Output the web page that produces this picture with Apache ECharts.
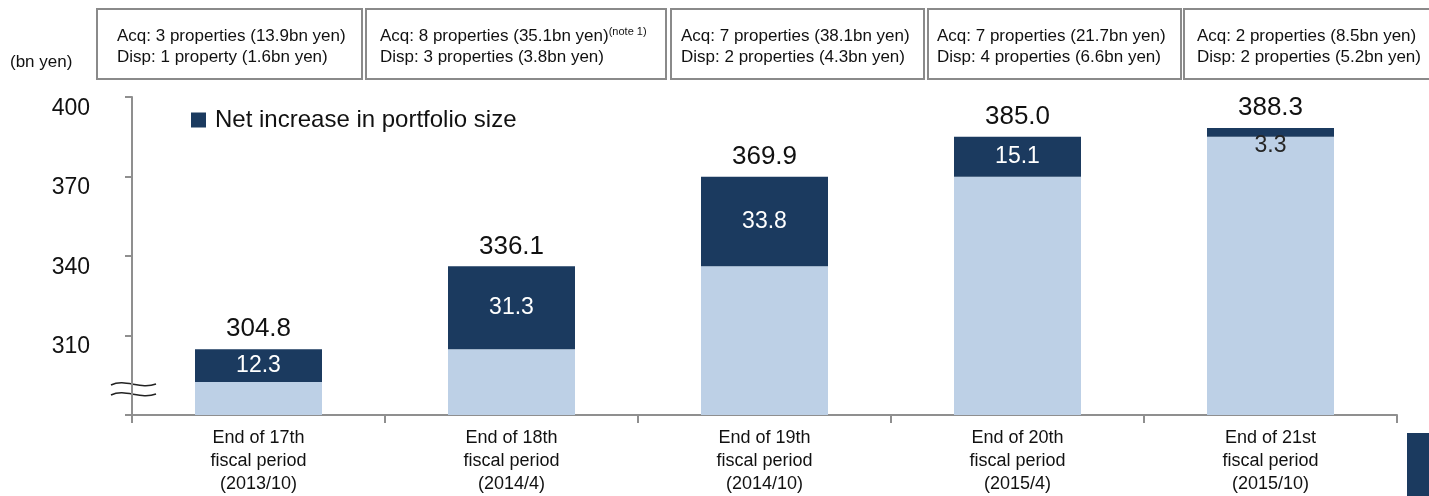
<!DOCTYPE html>
<head>
    <meta charset="utf-8"/>
    <style>
        html,body { height:100%; width:100%; margin:0; padding:0; background:#fff; }
    </style>
</head>
<body>

<div id="chart" style="width:1429px;height:496px"></div>

<script src="https://cdn.jsdelivr.net/npm/echarts@6/dist/echarts.min.js"></script>
<script type="text/javascript">

 // data
 var categories = [
     'End of 17th\nfiscal period\n(2013/10)',
     'End of 18th\nfiscal period\n(2014/4)',
     'End of 19th\nfiscal period\n(2014/10)',
     'End of 20th\nfiscal period\n(2015/4)',
     'End of 21st\nfiscal period\n(2015/10)'
 ];
 var totals = [304.8, 336.1, 369.9, 385.0, 388.3];
 var netIncrease = [12.3, 31.3, 33.8, 15.1, 3.3];
 var acqNotes = [
     'Acq: 3 properties (13.9bn yen)',
     'Acq: 8 properties (35.1bn yen)',
     'Acq: 7 properties (38.1bn yen)',
     'Acq: 7 properties (21.7bn yen)',
     'Acq: 2 properties (8.5bn yen)'
 ];
 var dispNotes = [
     'Disp: 1 property (1.6bn yen)',
     'Disp: 3 properties (3.8bn yen)',
     'Disp: 2 properties (4.3bn yen)',
     'Disp: 4 properties (6.6bn yen)',
     'Disp: 2 properties (5.2bn yen)'
 ];
 var yTicks = [310, 340, 370, 400];

 var NAVY = '#1b3a5f';
 var LIGHT = '#bdd0e6';
 var FONT = '"Liberation Sans", Arial, sans-serif';

 var baseValues = totals.map(function (t, i) { return +(t - netIncrease[i]).toFixed(1); });

 var netData = netIncrease.map(function (v, i) {
     if (v < 5) {
         // thin segment: label sits under it
         return { value: v, label: { position: 'bottom', distance: -3, color: '#262626' } };
     }
     return v;
 });

 // annotation boxes above the plot
 var boxes = [[97, 265, 117], [366, 300, 380], [671, 253, 681], [928, 253, 937], [1184, 260, 1197]];
 var graphics = [];
 boxes.forEach(function (b, i) {
     graphics.push({
         type: 'rect', shape: { x: b[0], y: 9, width: b[1], height: 70 },
         style: { fill: '#fff', stroke: '#8a8a8a', lineWidth: 2 }
     });
     var line1 = i === 1 ? acqNotes[i] + '{sup|(note 1)}' : acqNotes[i];
     graphics.push({
         type: 'text', x: b[2], y: 26,
         style: {
             text: line1 + '\n' + dispNotes[i],
             font: '17px ' + FONT, fill: '#111', lineHeight: 21,
             rich: { sup: { fontSize: 11, fontFamily: FONT, verticalAlign: 'top', lineHeight: 21, fill: '#111' } }
         }
     });
 });
 graphics.push({
     type: 'text', x: 10, y: 54,
     style: { text: '(bn yen)', font: '17px ' + FONT, fill: '#111' }
 });
 // axis break marks
 graphics.push({
     type: 'bezierCurve',
     shape: { x1: 111, y1: 385, cpx1: 125, cpy1: 378, cpx2: 140, cpy2: 390, x2: 156, y2: 384 },
     style: { stroke: '#222', lineWidth: 1.5, fill: null }
 });
 graphics.push({
     type: 'bezierCurve',
     shape: { x1: 111, y1: 395, cpx1: 125, cpy1: 388, cpx2: 140, cpy2: 400, x2: 156, y2: 394 },
     style: { stroke: '#222', lineWidth: 1.5, fill: null }
 });
 graphics.push({
     type: 'rect', shape: { x: 1407, y: 433, width: 22, height: 63 },
     style: { fill: NAVY }
 });

 var myChart = echarts.init(document.getElementById('chart'));

 var option = {
     animation: false,
     textStyle: { fontFamily: FONT },
     grid: { left: 132, right: 32, top: 97, bottom: 77 },
     legend: {
         data: ['Net increase in portfolio size'],
         left: 186, top: 103,
         itemWidth: 15, itemHeight: 15,
         icon: 'rect',
         textStyle: { fontSize: 24, color: '#111', padding: [0, 0, 0, 4] }
     },
     xAxis: {
         type: 'category',
         data: categories,
         axisLine: { lineStyle: { color: '#8f8f8f', width: 2 } },
         axisTick: { show: true, length: 8, lineStyle: { color: '#8f8f8f', width: 2 } },
         axisLabel: { fontSize: 18, lineHeight: 23, color: '#111', margin: 12, interval: 0 }
     },
     yAxis: {
         type: 'value',
         min: 280, max: 400, interval: 30,
         splitLine: { show: false },
         axisLine: { show: true, lineStyle: { color: '#8f8f8f', width: 2 } },
         axisTick: { show: true, length: 7, lineStyle: { color: '#8f8f8f', width: 2 } },
         axisLabel: {
             fontSize: 23, color: '#111', margin: 42, verticalAlign: 'top',
             formatter: function (v) { return yTicks.indexOf(v) >= 0 ? String(v) : ''; }
         }
     },
     series: [
         {
             name: 'base', type: 'bar', stack: 'p', barWidth: 127, barGap: '-100%',
             itemStyle: { color: LIGHT },
             data: baseValues
         },
         {
             name: 'Net increase in portfolio size', type: 'bar', stack: 'p', barWidth: 127,
             itemStyle: { color: NAVY },
             label: { show: true, position: 'inside', color: '#fff', fontSize: 23,
                      formatter: function (p) { return p.value.toFixed(1); } },
             data: netData
         },
         {
             name: 'total', type: 'bar', barWidth: 127, barGap: '-100%', z: 1,
             itemStyle: { color: 'rgba(0,0,0,0)' },
             label: { show: true, position: 'top', distance: 7, color: '#111', fontSize: 26,
                      formatter: function (p) { return p.value.toFixed(1); } },
             data: totals
         }
     ],
     graphic: graphics
 };

 myChart.setOption(option);

</script>
</body>
